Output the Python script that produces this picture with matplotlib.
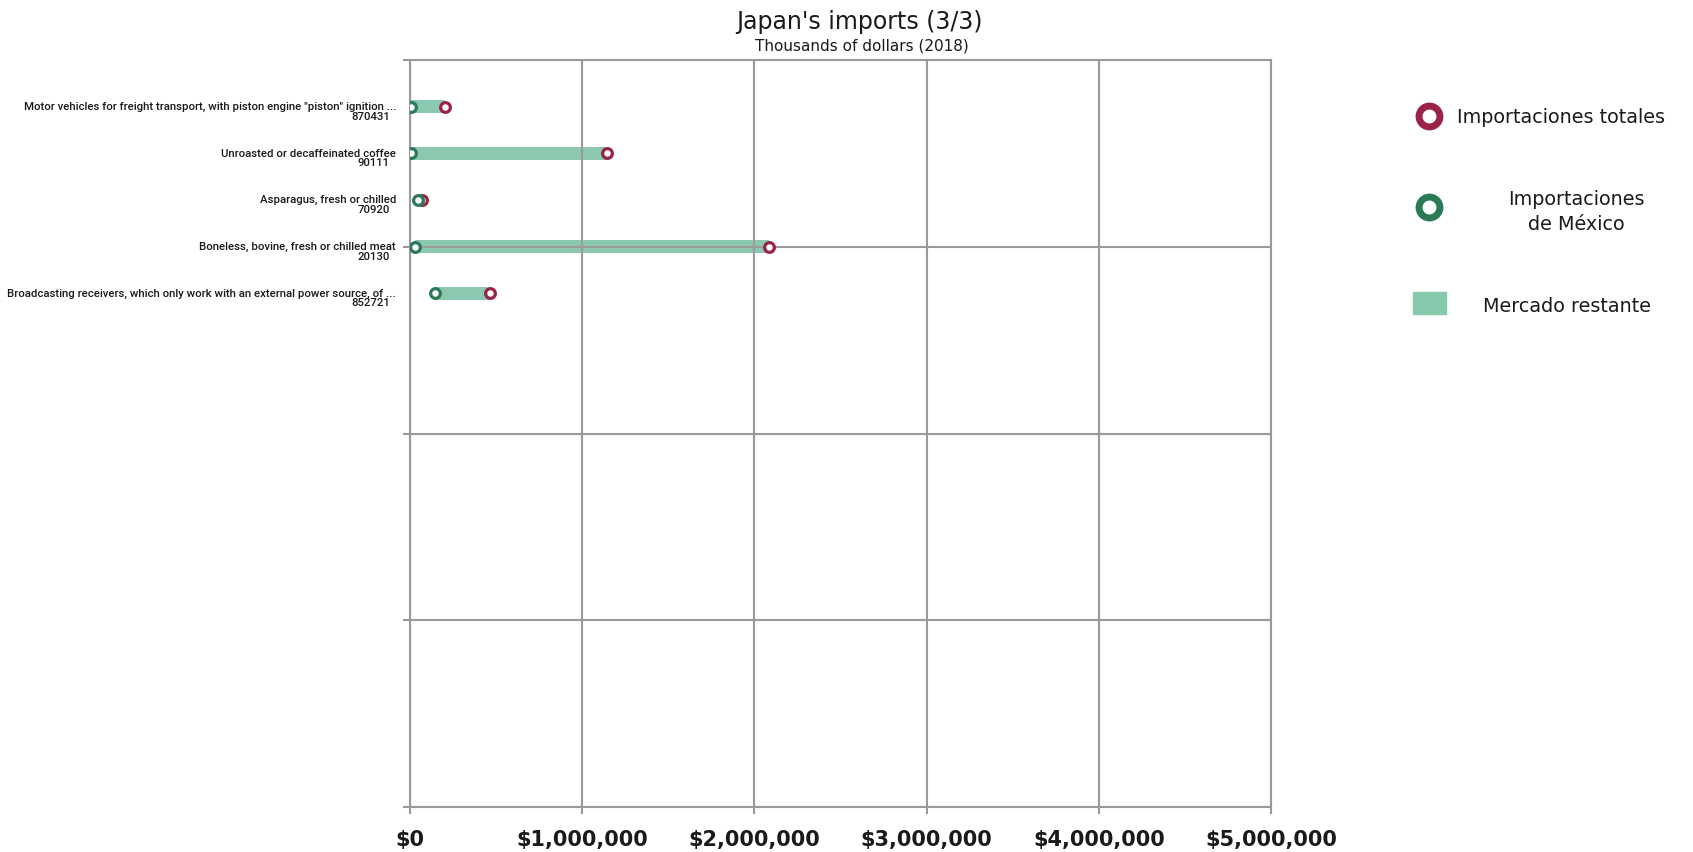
import matplotlib
matplotlib.use("Agg")
import matplotlib.pyplot as plt
from matplotlib.patches import Rectangle

# datos (miles de dolares, 2018)
productos = [
    'Motor vehicles for freight transport, with piston engine "piston" ignition ...',
    'Unroasted or decaffeinated coffee',
    'Asparagus, fresh or chilled',
    'Boneless, bovine, fresh or chilled meat',
    'Broadcasting receivers, which only work with an external power source, of ...',
]
codigos = ['870431', '90111', '70920', '20130', '852721']
imp_mexico = [5000, 6000, 45000, 27000, 145000]
imp_totales = [205000, 1145000, 68000, 2085000, 464000]
xticks = [0, 1000000, 2000000, 3000000, 4000000, 5000000]

rojo = '#9b2247'
verde = '#2b7a56'
barra = '#8cc8b0'
gris = '#9a9a9a'
texto = '#1a1a1a'

W, H = 1693, 853
fig = plt.figure(figsize=(W / 100, H / 100), dpi=100)
fig.patch.set_facecolor('white')

ax = fig.add_axes([410 / W, 1 - 808 / H, (1271 - 410) / W, (808 - 61) / H])
pos = list(range(1, len(productos) + 1))
resto = [t - m for t, m in zip(imp_totales, imp_mexico)]

ax.barh(pos, resto, left=imp_mexico, height=0.27, color=barra, zorder=1)
ax.plot(imp_totales, pos, 'o', ms=7, mew=2.3, mfc='white', mec=rojo, ls='none', zorder=4)
ax.plot(imp_mexico, pos, 'o', ms=7, mew=2.3, mfc='white', mec=verde, ls='none', zorder=5)

ax.set_xlim(0, 5000000)
ax.set_ylim(16, 0)
ax.set_xticks(xticks)
ax.set_xticklabels(['${:,}'.format(v) for v in xticks], fontsize=15, fontweight='bold', color=texto)
ax.set_yticks([0, 4, 8, 12, 16])
ax.set_yticklabels([])
ax.tick_params(axis='both', color=gris, width=1.5, length=5)
ax.tick_params(axis='x', pad=11)
ax.set_axisbelow(False)
ax.grid(True, color=gris, linewidth=1.5, zorder=2)
for s in ax.spines.values():
    s.set_color(gris)
    s.set_linewidth(1.5)

fuente = ['Roboto', 'DejaVu Sans']
for p, nombre, cod in zip(pos, productos, codigos):
    ax.annotate(nombre, xy=(0, p), xycoords=('axes fraction', 'data'),
                xytext=(-10, 0.5), textcoords='offset points', ha='right', va='center',
                fontsize=8.2, family=fuente, fontweight='medium', color=texto)
    ax.annotate(cod, xy=(0, p), xycoords=('axes fraction', 'data'),
                xytext=(-14.5, -6.5), textcoords='offset points', ha='right', va='center',
                fontsize=8.2, family=fuente, fontweight='medium', color=texto)

fig.text(859 / W, 1 - 22 / H, "Japan's imports (3/3)", ha='center', va='center', fontsize=17, color=texto)
fig.text(862 / W, 1 - 46 / H, 'Thousands of dollars (2018)', ha='center', va='center', fontsize=11, color=texto)

# leyenda a la derecha
lg = fig.add_axes([0, 0, 1, 1], zorder=-1)
lg.set_xlim(0, W)
lg.set_ylim(H, 0)
lg.axis('off')
lg.patch.set_alpha(0)
lg.plot([1429], [117], 'o', ms=15, mew=5, mfc='white', mec=rojo)
lg.text(1457, 117, 'Importaciones totales', ha='left', va='center', fontsize=13.8, color=texto)
lg.plot([1429], [208], 'o', ms=15, mew=5, mfc='white', mec=verde)
lg.text(1576, 212, 'Importaciones\nde México', ha='center', va='center', fontsize=13.8,
        color=texto, linespacing=1.4)
lg.add_patch(Rectangle((1413, 293), 33, 22, color='#86c9ad'))
lg.text(1567, 306, 'Mercado restante', ha='center', va='center', fontsize=13.8, color=texto)

fig.savefig('out.png', dpi=100)
